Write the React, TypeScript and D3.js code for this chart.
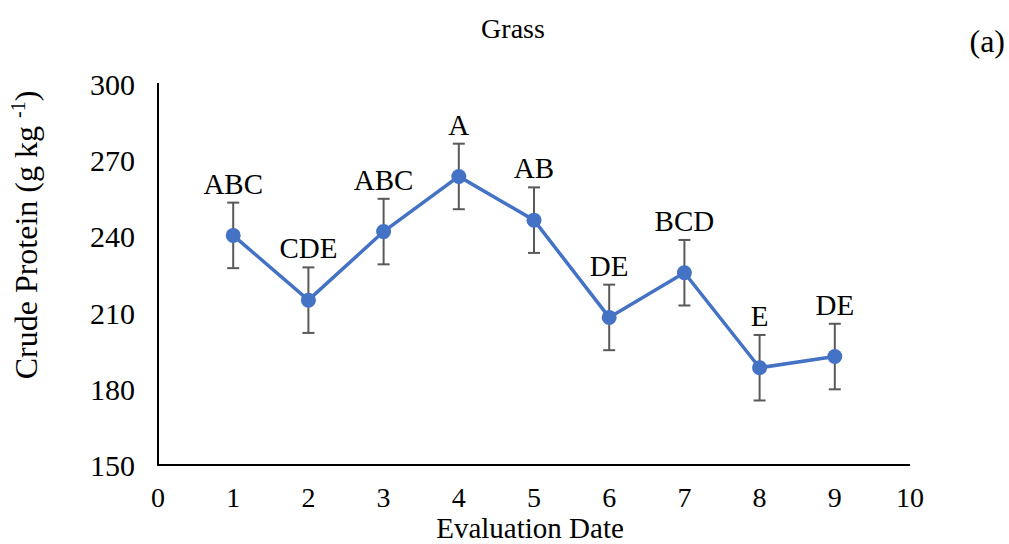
import React from "react";
import * as d3 from "d3";

const dates = [1, 2, 3, 4, 5, 6, 7, 8, 9];
const crudeProtein = [240.4, 214.9, 241.9, 263.6, 246.4, 208.1, 225.7, 188.3, 192.7];
const errors = [12.9, 12.9, 12.9, 12.9, 12.9, 12.9, 12.9, 12.9, 12.9];
const letters = ["ABC", "CDE", "ABC", "A", "AB", "DE", "BCD", "E", "DE"];
const xTicks = [0, 1, 2, 3, 4, 5, 6, 7, 8, 9, 10];
const yTicks = [150, 180, 210, 240, 270, 300];

export default function App() {
  const W = 1009, H = 544;
  const x = d3.scaleLinear().domain([0, 10]).range([158, 910]);
  const y = d3.scaleLinear().domain([150, 300]).range([465, 84]);
  const font = "'Liberation Serif', 'Times New Roman', serif";
  const line = d3.line<number>().x((_, i) => x(dates[i])).y((d) => y(d));
  const blue = "#4472C4";
  const grey = "#595959";
  return (
    <svg width={W} height={H} style={{ position: "absolute", left: 0, top: 0, background: "#fff" }}>
      <text x={513} y={38} fontFamily={font} fontSize={28} textAnchor="middle">Grass</text>
      <text x={1005} y={52} fontFamily={font} fontSize={32} textAnchor="end">(a)</text>
      <line x1={x(0)} x2={x(0)} y1={83} y2={466} stroke="#000" strokeWidth={2} />
      <line x1={x(0) - 1} x2={x(10)} y1={465} y2={465} stroke="#000" strokeWidth={2} />
      {yTicks.map((t) => (
        <text key={t} x={135} y={y(t) + 11} fontFamily={font} fontSize={30} textAnchor="end">{t}</text>
      ))}
      {xTicks.map((t) => (
        <text key={t} x={x(t)} y={507} fontFamily={font} fontSize={28} textAnchor="middle">{t}</text>
      ))}
      <text x={530} y={538} fontFamily={font} fontSize={29} textAnchor="middle">Evaluation Date</text>
      <text transform={`translate(37, 235) rotate(-90)`} fontFamily={font} fontSize={32} textAnchor="middle">
        Crude Protein (g kg <tspan dy={-12} fontSize={20}>-1</tspan><tspan dy={12}>)</tspan>
      </text>
      {dates.map((d, i) => {
        const cx = x(d);
        const top = y(crudeProtein[i] + errors[i]);
        const bot = y(crudeProtein[i] - errors[i]);
        return (
          <g key={"e" + i} stroke={grey} strokeWidth={2}>
            <line x1={cx} x2={cx} y1={top} y2={bot} />
            <line x1={cx - 6} x2={cx + 6} y1={top} y2={top} />
            <line x1={cx - 6} x2={cx + 6} y1={bot} y2={bot} />
          </g>
        );
      })}
      <path d={line(crudeProtein) || ""} fill="none" stroke={blue} strokeWidth={3.5} />
      {dates.map((d, i) => (
        <circle key={"c" + i} cx={x(d)} cy={y(crudeProtein[i])} r={7.5} fill={blue} />
      ))}
      {dates.map((d, i) => (
        <text key={"l" + i} x={x(d)} y={y(crudeProtein[i] + errors[i]) - 9} fontFamily={font} fontSize={29} textAnchor="middle">
          {letters[i]}
        </text>
      ))}
    </svg>
  );
}
